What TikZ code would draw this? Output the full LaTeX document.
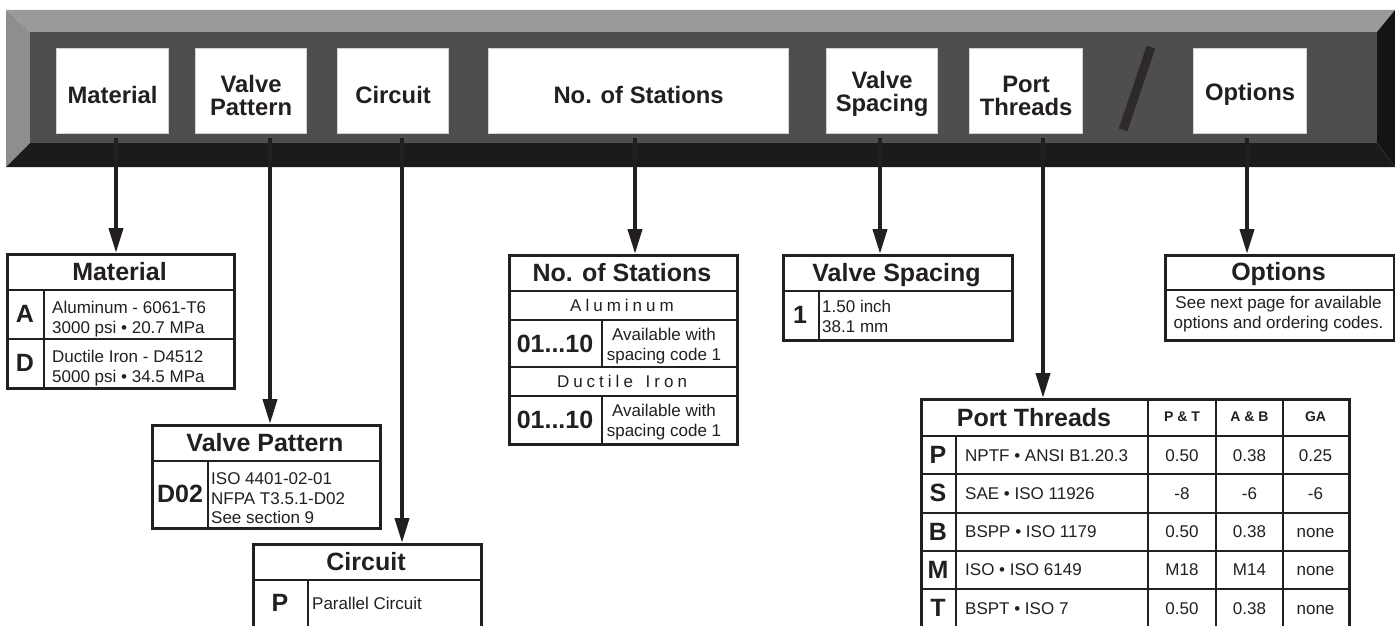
\documentclass[tikz,border=0pt]{standalone}
\usepackage{fontspec}
\setmainfont{Liberation Sans}
\usetikzlibrary{arrows.meta}
\definecolor{ink}{HTML}{231F20}
\definecolor{bartop}{HTML}{9A9A9A}
\definecolor{barleft}{HTML}{8E8E8E}
\definecolor{barin}{HTML}{4E4E4E}
\definecolor{barbot}{HTML}{1B1B1B}
\definecolor{barright}{HTML}{141414}
\begin{document}
\begin{tikzpicture}[x=1pt,y=-1pt,
  barbox/.style={fill=white, draw=black!18, line width=1.2pt, anchor=north west, inner sep=0pt, minimum height=85pt},
  bartext/.style={font=\fontsize{23.8}{23}\selectfont\bfseries, align=center, text=ink, inner sep=0pt},
  tframe/.style={draw=ink, line width=2.6pt, fill=white, anchor=north west, inner sep=0pt},
  sepline/.style={draw=ink, line width=2.2pt},
  gridline/.style={draw=ink, line width=1.6pt},
  ttitle/.style={font=\fontsize{25}{27}\selectfont\bfseries, text=ink, inner sep=0pt, anchor=base},
  tcode/.style={font=\fontsize{25}{27}\selectfont\bfseries, text=ink, inner sep=0pt},
  tbody/.style={font=\fontsize{17}{20}\selectfont, text=ink, inner sep=0pt, anchor=base west},
  tbodyc/.style={font=\fontsize{17}{20}\selectfont, text=ink, inner sep=0pt, anchor=base},
  thead/.style={font=\fontsize{14}{16}\selectfont\bfseries, text=ink, inner sep=0pt},
  arr/.style={draw=ink, line width=4pt, -{Triangle[length=25pt,width=14pt]}}
]
\useasboundingbox (0,0) rectangle (1395,626);
\begin{scope}
\clip (0,0) rectangle (1395,626);

% ---------- top bar ----------
\fill[bartop] (6,10) -- (1395,10) -- (1377,32) -- (30,32) -- cycle;
\fill[barleft] (6,10) -- (30,32) -- (30,143) -- (6,167) -- cycle;
\fill[barbot] (6,167) -- (30,143) -- (1377,143) -- (1395,167) -- cycle;
\fill[barright] (1395,10) -- (1377,32) -- (1377,143) -- (1395,167) -- cycle;
\fill[barin] (30,32) rectangle (1377,143);

\node[barbox, minimum width=112pt] (bmat) at (56,48) {};
\node[barbox, minimum width=111pt] (bvp)  at (195,48) {};
\node[barbox, minimum width=111pt] (bcir) at (337,48) {};
\node[barbox, minimum width=300pt] (bnos) at (488,48) {};
\node[barbox, minimum width=111pt] (bvs)  at (826,48) {};
\node[barbox, minimum width=113pt] (bpt)  at (969,48) {};
\node[barbox, minimum width=113pt] (bopt) at (1193,48) {};

\node[bartext] (tmat) at ([yshift=-4pt]bmat.center) {Material};
\node[bartext] (tvp)  at ([yshift=-4.5pt]bvp.center) {Valve\\Pattern};
\node[bartext] (tcir) at ([yshift=-4pt]bcir.center) {Circuit};
\node[bartext] (tnos) at ([yshift=-4pt]bnos.center) {No. of Stations};
\node[bartext] (tvs)  at ([yshift=-3pt]bvs.center) {Valve\\Spacing};
\node[bartext] (tpt)  at ([yshift=-4.5pt]bpt.center) {Port\\Threads};
\node[bartext] (topt) at ([yshift=-3pt]bopt.center) {Options};

\draw[ink!95, line width=9pt] (1151,47) -- (1123,130);

% ---------- Material ----------
\node[tframe, minimum width=227pt, minimum height=134pt] (matT) at (6,253) {};
\draw[sepline] (6,290) -- (233,290);
\draw[gridline] (44,290) -- (44,387);
\draw[gridline] (6,339) -- (233,339);
\node[ttitle] (matTt) at (119.5,280) {Material};
\node[tcode] (matA) at (25,314) {A};
\node[tbody] (matA1) at (52,313) {Aluminum - 6061-T6};
\node[tbody] (matA2) at (52,333) {3000 psi • 20.7 MPa};
\node[tcode] (matD) at (25,363) {D};
\node[tbody] (matD1) at (52,362) {Ductile Iron - D4512};
\node[tbody] (matD2) at (52,382) {5000 psi • 34.5 MPa};

% ---------- Valve Pattern ----------
\node[tframe, minimum width=228pt, minimum height=103pt] (vpT) at (151,424) {};
\draw[sepline] (151,461) -- (379,461);
\draw[gridline] (208,461) -- (208,527);
\node[ttitle] (vpTt) at (265,451) {Valve Pattern};
\node[tcode] (vpD) at (180,494) {D02};
\node[tbody] (vp1) at (211,484) {ISO 4401-02-01};
\node[tbody] (vp2) at (211,504) {NFPA T3.5.1-D02};
\node[tbody] (vp3) at (211,523) {See section 9};

% ---------- Circuit ----------
\node[tframe, minimum width=228pt, minimum height=100pt] (cirT) at (252,543) {};
\draw[sepline] (252,580) -- (480,580);
\draw[gridline] (308,580) -- (308,643);
\node[ttitle] (cirTt) at (366,570) {Circuit};
\node[tcode] (cirP) at (280,603) {P};
\node[tbody] (cir1) at (312,609) {Parallel Circuit};

% ---------- No. of Stations ----------
\node[tframe, minimum width=228pt, minimum height=189pt] (nosT) at (508,254) {};
\draw[sepline] (508,291) -- (736,291);
\draw[gridline] (508,320) -- (736,320);
\draw[gridline] (508,367) -- (736,367);
\draw[gridline] (508,396) -- (736,396);
\draw[gridline] (602,320) -- (602,367);
\draw[gridline] (602,396) -- (602,443);
\node[ttitle] (nosTt) at (622,281) {No. of Stations};
\node[tbodyc] (nosAl) at (622,311) {A\kern4pt l\kern4pt u\kern4pt m\kern4pt i\kern4pt n\kern4pt u\kern4pt m};
\node[tcode] (nosC1) at (555,343.5) {01...10};
\node[tbodyc] (nos1a) at (664,340) {Available with};
\node[tbodyc] (nos1b) at (664,360) {spacing code 1};
\node[tbodyc] (nosDi) at (622,387) {D\kern4pt u\kern4pt c\kern4pt t\kern4pt i\kern4pt l\kern4pt e\kern4pt\ \kern4pt I\kern4pt r\kern4pt o\kern4pt n};
\node[tcode] (nosC2) at (555,419.5) {01...10};
\node[tbodyc] (nos2a) at (664,416) {Available with};
\node[tbodyc] (nos2b) at (664,436) {spacing code 1};

% ---------- Valve Spacing ----------
\node[tframe, minimum width=229pt, minimum height=85pt] (vsT) at (782,254) {};
\draw[sepline] (782,291) -- (1011,291);
\draw[gridline] (819,291) -- (819,339);
\node[ttitle] (vsTt) at (896.5,281) {Valve Spacing};
\node[tcode] (vs1) at (800,315) {1};
\node[tbody] (vsa) at (822,312) {1.50 inch};
\node[tbody] (vsb) at (822,332) {38.1 mm};

% ---------- Options ----------
\node[tframe, minimum width=229pt, minimum height=85pt] (optT) at (1164,254) {};
\draw[sepline] (1164,290) -- (1393,290);
\node[ttitle] (optTt) at (1278.5,280) {Options};
\node[tbodyc] (opta) at (1278.5,308) {See next page for available};
\node[tbodyc] (optb) at (1278.5,328) {options and ordering codes.};

% ---------- Port Threads ----------
\node[tframe, minimum width=428pt, minimum height=232pt] (ptT) at (920,398) {};
\draw[sepline] (920,436) -- (1348,436);
\foreach \yy in {474,513,551,589} \draw[gridline] (920,\yy) -- (1348,\yy);
\draw[gridline] (956,436) -- (956,630);
\foreach \xx in {1148,1216,1283} \draw[gridline] (\xx,398) -- (\xx,630);
\node[ttitle] (ptTt) at (1034,426) {Port Threads};
\node[thead] (ptH1) at (1182,417) {P \& T};
\node[thead] (ptH2) at (1249.5,417) {A \& B};
\node[thead] (ptH3) at (1315.5,417) {GA};
\foreach \c/\d/\p/\a/\g [count=\i] in {P/NPTF • ANSI B1.20.3/0.50/0.38/0.25,
    S/SAE • ISO 11926/-8/-6/-6,
    B/BSPP • ISO 1179/0.50/0.38/none,
    M/ISO • ISO 6149/M18/M14/none,
    T/BSPT • ISO 7/0.50/0.38/none}{
  \pgfmathsetmacro\yc{455+(\i-1)*38.25}
  \node[tcode] (ptC\i) at (938,\yc) {\c};
  \node[tbody] (ptD\i) at (965,{\yc+6}) {\d};
  \node[tbodyc] (ptP\i) at (1182,{\yc+6}) {\p};
  \node[tbodyc] (ptA\i) at (1249.5,{\yc+6}) {\a};
  \node[tbodyc] (ptG\i) at (1315.5,{\yc+6}) {\g};
}

% ---------- arrows ----------
\coordinate (s1) at (116,138);
\coordinate (s2) at (270,138);
\coordinate (s3) at (402,138);
\coordinate (s4) at (635,138);
\coordinate (s5) at (880,138);
\coordinate (s6) at (1043,138);
\coordinate (s7) at (1247,138);
\draw[arr] (s1) -- (s1 |- matT.north);
\draw[arr] (s2) -- (s2 |- vpT.north);
\draw[arr] (s3) -- (s3 |- cirT.north);
\draw[arr] (s4) -- (s4 |- nosT.north);
\draw[arr] (s5) -- (s5 |- vsT.north);
\draw[arr] (s6) -- (s6 |- ptT.north);
\draw[arr] (s7) -- (s7 |- optT.north);
\end{scope}
\end{tikzpicture}
\end{document}
